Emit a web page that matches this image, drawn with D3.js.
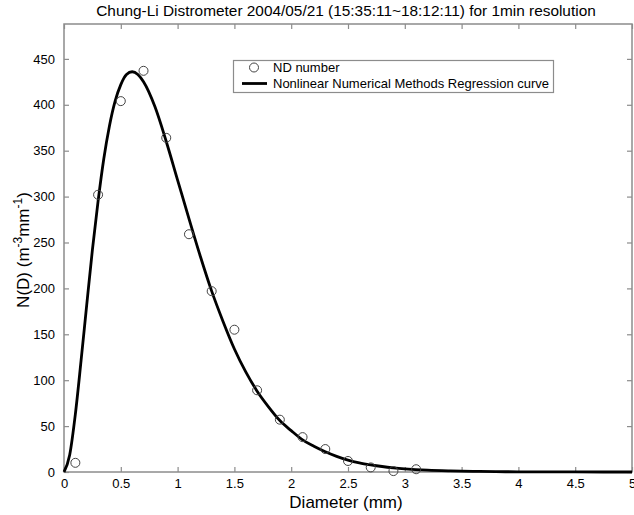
<!DOCTYPE html>
<html lang="en">
    <head>
        <meta charset="utf-8">
        <title>Chung-Li Distrometer</title>
        <script type="text/javascript" src="https://d3js.org/d3.v7.min.js"></script>
        <style type="text/css">
            body { margin: 0; background: #fff; }
            text { font-family: "Liberation Sans", Arial, sans-serif; fill: #000; }
        </style>
    </head>
    <body>
        <script type="text/javascript">

        // Width and Height
        var w = 634;
        var h = 515;

        // Measured drop counts (ND number)
        var ndDiam = [0.1, 0.3, 0.5, 0.7, 0.9, 1.1, 1.3, 1.5, 1.7, 1.9, 2.1, 2.3, 2.5, 2.7, 2.9, 3.1];
        var ndValue = [10, 302, 404, 437, 364, 259, 197, 155, 89, 57, 38, 25, 12, 5, 1, 3];

        // Regression curve
        var fitDiam = [0, 0.05, 0.1, 0.15, 0.2, 0.25, 0.3, 0.35, 0.4, 0.45, 0.5, 0.55, 0.6, 0.65, 0.7, 0.8, 0.9, 1.0,
                       1.1, 1.2, 1.3, 1.4, 1.5, 1.6, 1.7, 1.8, 1.9, 2.0, 2.1, 2.2, 2.3, 2.4, 2.5, 2.6, 2.7, 2.8,
                       2.9, 3.0, 3.2, 3.4, 3.6, 3.8, 4.0, 4.5, 5.0];
        var fitValue = [0, 18.5, 63, 121, 182, 242, 295, 341, 377, 404, 422, 433, 436, 433, 425, 398, 360, 318,
                        276, 235, 197, 164, 134, 109, 88, 71, 56, 45, 35, 28, 22, 17, 13, 10, 7.8, 6.0,
                        4.6, 3.5, 2.0, 1.2, 0.7, 0.4, 0.2, 0.05, 0.01];

        // Tick labels
        var xTicks = [0, 0.5, 1, 1.5, 2, 2.5, 3, 3.5, 4, 4.5, 5];
        var yTicks = [0, 50, 100, 150, 200, 250, 300, 350, 400, 450];

        var pLeft = 64, pRight = 632, pTop = 24, pBottom = 472;
        var frameColor = "#8c8c8c";

        var x = d3.scaleLinear().domain([0, 5]).range([pLeft, pRight]);
        var y = d3.scaleLinear().domain([0, 488]).range([pBottom, pTop]);

        var svg = d3.select("body")
                    .append("svg")
                    .attr("width", w)
                    .attr("height", h);

        // Marco
        svg.append("rect")
            .attr("x", pLeft)
            .attr("y", pTop)
            .attr("width", pRight - pLeft)
            .attr("height", pBottom - pTop)
            .attr("fill", "none")
            .attr("stroke", frameColor)
            .attr("stroke-width", 1.5);

        // Ejes (ticks hacia dentro)
        function styleAxis(g) {
            g.select(".domain").remove();
            g.selectAll(".tick line").attr("stroke", frameColor).attr("stroke-width", 1.2);
            g.selectAll(".tick text").style("font-size", "13px").attr("fill", "#000");
        }

        svg.append("g")
            .attr("transform", "translate(0," + pBottom + ")")
            .call(d3.axisBottom(x).tickValues(xTicks).tickFormat(d3.format("")).tickSizeInner(-5).tickPadding(7))
            .call(styleAxis);

        svg.append("g")
            .attr("transform", "translate(0," + pTop + ")")
            .call(d3.axisTop(x).tickValues(xTicks).tickFormat("").tickSizeInner(-5))
            .call(styleAxis);

        svg.append("g")
            .attr("transform", "translate(" + pLeft + ",0)")
            .call(d3.axisLeft(y).tickValues(yTicks).tickSizeInner(-5).tickPadding(9))
            .call(styleAxis);

        svg.append("g")
            .attr("transform", "translate(" + pRight + ",0)")
            .call(d3.axisRight(y).tickValues(yTicks).tickFormat("").tickSizeInner(-5))
            .call(styleAxis);

        // Curva
        var line = d3.line()
            .x(function(d, i) { return x(fitDiam[i]); })
            .y(function(d) { return y(d); })
            .curve(d3.curveMonotoneX);

        svg.append("path")
            .datum(fitValue)
            .attr("d", line)
            .attr("fill", "none")
            .attr("stroke", "#000")
            .attr("stroke-width", 2.8);

        // Puntos
        svg.selectAll("circle.nd")
            .data(ndValue)
            .enter()
            .append("circle")
            .attr("class", "nd")
            .attr("cx", function(d, i) { return x(ndDiam[i]); })
            .attr("cy", function(d) { return y(d); })
            .attr("r", 4.5)
            .attr("fill", "none")
            .attr("stroke", "#444")
            .attr("stroke-width", 1);

        // Titulo
        svg.append("text")
            .attr("x", (pLeft + pRight) / 2 - 2)
            .attr("y", 16)
            .attr("text-anchor", "middle")
            .style("font-size", "15.4px")
            .text("Chung-Li Distrometer 2004/05/21 (15:35:11~18:12:11) for 1min resolution");

        // Etiquetas de ejes
        svg.append("text")
            .attr("x", (pLeft + pRight) / 2 - 2)
            .attr("y", 508)
            .attr("text-anchor", "middle")
            .style("font-size", "17px")
            .text("Diameter (mm)");

        var yl = svg.append("text")
            .attr("transform", "translate(29," + ((pTop + pBottom) / 2 + 2) + ") rotate(-90)")
            .attr("text-anchor", "middle")
            .style("font-size", "17px");
        yl.append("tspan").text("N(D) (m");
        yl.append("tspan").attr("dy", -7).style("font-size", "12px").text("-3");
        yl.append("tspan").attr("dy", 7).text("mm");
        yl.append("tspan").attr("dy", -7).style("font-size", "12px").text("-1");
        yl.append("tspan").attr("dy", 7).text(")");

        // Leyenda
        var lg = svg.append("g");
        lg.append("rect")
            .attr("x", 233.5)
            .attr("y", 60.5)
            .attr("width", 320)
            .attr("height", 32)
            .attr("fill", "#fff")
            .attr("stroke", frameColor)
            .attr("stroke-width", 1.2);
        lg.append("circle")
            .attr("cx", 254)
            .attr("cy", 67.5)
            .attr("r", 4.5)
            .attr("fill", "none")
            .attr("stroke", "#444");
        lg.append("line")
            .attr("x1", 242).attr("x2", 267)
            .attr("y1", 83.5).attr("y2", 83.5)
            .attr("stroke", "#000")
            .attr("stroke-width", 2.8);
        lg.append("text").attr("x", 273).attr("y", 72).style("font-size", "13px").text("ND number");
        lg.append("text").attr("x", 273).attr("y", 88).style("font-size", "13px").text("Nonlinear Numerical Methods Regression curve");

        </script>
    </body>
</html>
